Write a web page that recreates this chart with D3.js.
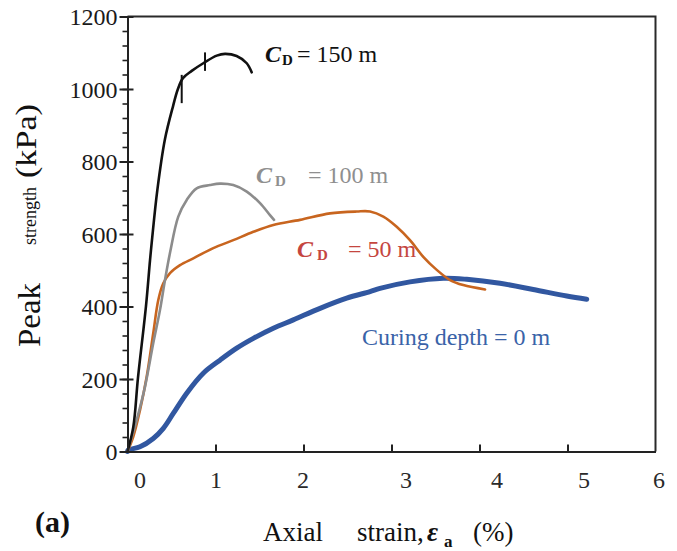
<!DOCTYPE html>
<html>
<head>
<meta charset="utf-8">
<script src="https://cdn.jsdelivr.net/npm/d3@7"></script>
<style>
  html, body { margin: 0; padding: 0; background: #fff; }
  svg { display: block; font-family: "Liberation Serif", "Times New Roman", serif; }
</style>
</head>
<body>
<svg id="chart" width="677" height="551"></svg>
<script>
// ---- data (axial strain %, peak strength kPa) ----
const xTicks = [0, 1, 2, 3, 4, 5, 6];
const xTickLabelNudge = [12, 0, -1, 14, 17, 16, 3];
const yTicks = [0, 200, 400, 600, 800, 1000, 1200];
const yMinorTicks = d3.range(0, 1201, 40);

const strain150 = [0, 0.066, 0.119, 0.21, 0.256, 0.278, 0.339, 0.426, 0.52, 0.57, 0.63, 0.73, 0.861, 1.014, 1.108, 1.24, 1.355, 1.411];
const stress150 = [0, 68, 203, 401, 528, 583, 721, 862, 955, 998, 1030, 1050, 1071, 1092, 1097, 1091, 1071, 1046];
const spikes150 = [{x: 0.616, lo: 961, hi: 1039}, {x: 0.881, lo: 1050, hi: 1101}];

const strain100 = [0, 0.105, 0.199, 0.293, 0.369, 0.426, 0.483, 0.577, 0.673, 0.786, 0.9375, 1.051, 1.202, 1.355, 1.506, 1.619, 1.665];
const stress100 = [0, 87, 179, 299, 390, 473, 548, 648, 694, 726, 735, 739, 735, 717, 685, 652, 639];

const strain50 = [0, 0.066, 0.142, 0.218, 0.293, 0.35, 0.407, 0.483, 0.597, 0.748, 0.975, 1.202, 1.43, 1.657, 1.96, 2.301, 2.605, 2.756, 2.907, 3.059, 3.21, 3.361, 3.514, 3.665, 3.816, 4.063];
const stress50 = [0, 41, 114, 206, 327, 418, 464, 492, 514, 533, 561, 583, 606, 625, 639, 657, 662, 662, 648, 620, 583, 537, 501, 473, 459, 447];

const strain0 = [0, 0.009, 0.142, 0.293, 0.407, 0.52, 0.673, 0.861, 1.051, 1.241, 1.43, 1.657, 1.884, 2.188, 2.491, 2.756, 2.869, 3.21, 3.589, 3.855, 4.233, 4.611, 4.991, 5.218];
const stress0 = [0, 4, 13, 36, 64, 105, 161, 216, 252, 285, 312, 340, 363, 395, 423, 441, 450, 468, 478, 475, 464, 447, 429, 420];

const series = [
  {name: "0 m",   xs: strain0,   ys: stress0,   color: "#3157a0", width: 5},
  {name: "50 m",  xs: strain50,  ys: stress50,  color: "#c8651f", width: 2.6},
  {name: "100 m", xs: strain100, ys: stress100, color: "#8c8c8c", width: 2.6},
  {name: "150 m", xs: strain150, ys: stress150, color: "#111111", width: 2.6}
];

// ---- layout ----
const svg = d3.select("#chart");
const mLeft = 127.5, mRight = 655.5, mTop = 16.5, mBottom = 451.5;
const x = d3.scaleLinear().domain([0, 6]).range([mLeft, mRight]);
const y = d3.scaleLinear().domain([0, 1200]).range([mBottom, mTop]);

// frame (top & right)
svg.append("path")
  .attr("d", `M${mLeft},${mTop}H${mRight}V${mBottom}`)
  .attr("fill", "none").attr("stroke", "#2a2a2a").attr("stroke-width", 2);

// curves
const line = d3.line().x(d => x(d[0])).y(d => y(d[1])).curve(d3.curveCatmullRom.alpha(0.5));
series.forEach(s => {
  svg.append("path")
    .datum(s.xs.map((v, i) => [v, s.ys[i]]))
    .attr("d", line)
    .attr("fill", "none")
    .attr("stroke", s.color)
    .attr("stroke-width", s.width)
    .attr("stroke-linecap", "round")
    .attr("stroke-linejoin", "round");
});
svg.selectAll(".spike").data(spikes150).join("line")
  .attr("class", "spike")
  .attr("x1", d => x(d.x)).attr("x2", d => x(d.x))
  .attr("y1", d => y(d.lo)).attr("y2", d => y(d.hi))
  .attr("stroke", "#111").attr("stroke-width", 2);

// y axis minor ticks
svg.append("g").attr("transform", `translate(${mLeft},0)`)
  .call(d3.axisLeft(y).tickValues(yMinorTicks).tickSize(5).tickFormat(""))
  .call(g => g.select(".domain").remove())
  .call(g => g.selectAll("line").attr("stroke", "#222").attr("stroke-width", 1.6));

// y axis major
svg.append("g").attr("transform", `translate(${mLeft},0)`)
  .call(d3.axisLeft(y).tickValues(yTicks).tickSizeInner(8).tickSizeOuter(0).tickPadding(2).tickFormat(d3.format("d")))
  .call(g => g.select(".domain").attr("stroke", "#222").attr("stroke-width", 2))
  .call(g => g.selectAll(".tick line").attr("stroke", "#222").attr("stroke-width", 2).attr("x2", 6).attr("x1", -8))
  .call(g => g.selectAll("text").attr("font-family", "Liberation Serif").attr("font-size", 24).attr("fill", "#1a1a1a").attr("dy", "0.34em"));

// x axis
svg.append("g").attr("transform", `translate(0,${mBottom})`)
  .call(d3.axisBottom(x).tickValues(xTicks).tickSizeInner(-7).tickSizeOuter(0).tickPadding(0).tickFormat(d3.format("d")))
  .call(g => g.select(".domain").attr("stroke", "#222").attr("stroke-width", 2))
  .call(g => g.selectAll(".tick line").attr("stroke", "#222").attr("stroke-width", 2)
      .attr("display", d => (d === 0 || d === 6) ? "none" : null))
  .call(g => g.selectAll("text")
      .attr("font-family", "Liberation Serif").attr("font-size", 24).attr("fill", "#2a2a2a")
      .attr("y", 36.5).attr("dy", 0)
      .attr("x", (d, i) => xTickLabelNudge[i]));

// y title (rotated)
function rotText(cx, cy, txt, size, len) {
  const t = svg.append("text")
    .attr("transform", `translate(${cx},${cy}) rotate(-90)`)
    .attr("text-anchor", "middle")
    .attr("font-size", size).attr("fill", "#111").text(txt);
  if (len) t.attr("textLength", len).attr("lengthAdjust", "spacingAndGlyphs");
  return t;
}
rotText(40, 315, "Peak", 32, 64);
rotText(36, 216, "strength", 18, 58);
rotText(36, 141, "(kPa)", 29, 74);

// x title
const xt = svg.append("text").attr("y", 541).attr("fill", "#111").attr("font-size", 27);
xt.append("tspan").attr("x", 263).text("Axial");
xt.append("tspan").attr("x", 357).text("strain,");
xt.append("tspan").attr("x", 427).attr("font-style", "italic").attr("font-weight", "bold").text("ε");
xt.append("tspan").attr("x", 444).attr("dy", 6).attr("font-size", 17).attr("font-weight", "bold").text("a");
xt.append("tspan").attr("x", 473).attr("dy", -6).text("(%)");

// panel tag
svg.append("text").attr("x", 35).attr("y", 532).attr("font-size", 30).attr("font-weight", "bold")
  .attr("fill", "#111").text("(a)");

// curve labels
function cdLabel(cx, dx, ex, by, rest, color) {
  const t = svg.append("text").attr("y", by).attr("fill", color).attr("font-size", 24);
  t.append("tspan").attr("x", cx).attr("font-style", "italic").attr("font-weight", "bold").text("C");
  t.append("tspan").attr("x", dx).attr("dy", 3).attr("font-size", 15).attr("font-weight", "bold").text("D");
  t.append("tspan").attr("x", ex).attr("dy", -3).text(rest);
}
cdLabel(265, 282, 297, 62, "= 150 m", "#111");
cdLabel(256, 275, 308, 183, "= 100 m", "#8f8f8f");
cdLabel(297, 317, 348, 257, "= 50 m", "#c5463f");
svg.append("text").attr("x", 362).attr("y", 345).attr("font-size", 24).attr("fill", "#3a63a8")
  .text("Curing depth = 0 m");
</script>
</body>
</html>
